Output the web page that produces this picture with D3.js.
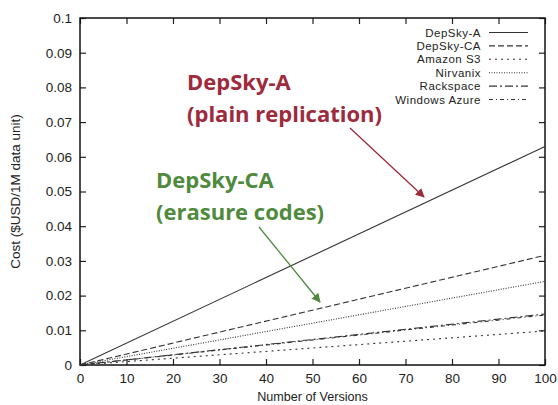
<!DOCTYPE html>
<html lang="en">
<head>
    <meta charset="UTF-8">
    <title>Cost per version</title>
    <style>
        body {
            margin: 0;
            padding: 0;
            background: #fff;
        }
        svg {
            display: block;
        }
        .tick-label, .legend-label, .axis-title {
            font-family: 'Liberation Sans', Arial, sans-serif;
            fill: #222;
        }
        .note {
            font-family: 'Open Sans', 'Noto Sans', sans-serif;
            font-weight: bold;
        }
    </style>
</head>
<body>
    <svg width="558" height="405"></svg>

    <script src="https://d3js.org/d3.v7.min.js"></script>

    <script>
        // Data: cost at 0 and 100 versions
        const versions = [0, 100];
        const seriesNames = ['DepSky-A', 'DepSky-CA', 'Amazon S3', 'Nirvanix', 'Rackspace', 'Windows Azure'];
        const depskyA = [0, 0.0630];
        const depskyCA = [0, 0.0316];
        const amazonS3 = [0, 0.0098];
        const nirvanix = [0, 0.0241];
        const rackspace = [0, 0.0147];
        const windowsAzure = [0, 0.0144];
        const xTicks = [0, 10, 20, 30, 40, 50, 60, 70, 80, 90, 100];
        const yTicks = [0, 0.01, 0.02, 0.03, 0.04, 0.05, 0.06, 0.07, 0.08, 0.09, 0.1];

        const allValues = [depskyA, depskyCA, amazonS3, nirvanix, rackspace, windowsAzure];
        const dashes = ['none', '6,3', '2,4', '1,1.5', '8,3,2,3', '4,3,1,3'];

        const margin = { left: 80, right: 13, top: 18, bottom: 40 };
        const width = 558;
        const height = 405;

        const svg = d3.select('svg');

        const x = d3.scaleLinear()
            .domain([0, 100])
            .range([margin.left, width - margin.right]);

        const y = d3.scaleLinear()
            .domain([0, 0.1])
            .range([height - margin.bottom, margin.top]);

        const tickLen = 6;

        // gnuplot style ticks: inward, mirrored on all four sides
        svg.append('g')
            .attr('transform', `translate(0,${y(0)})`)
            .call(d3.axisBottom(x).tickValues(xTicks).tickSizeInner(-tickLen).tickSizeOuter(0).tickPadding(8))
            .call(g => g.select('.domain').remove())
            .call(g => g.selectAll('text').attr('class', 'tick-label').style('font-size', '13.5px'));

        svg.append('g')
            .attr('transform', `translate(0,${y(0.1)})`)
            .call(d3.axisTop(x).tickValues(xTicks).tickSizeInner(-tickLen).tickSizeOuter(0).tickFormat(''))
            .call(g => g.select('.domain').remove());

        svg.append('g')
            .attr('transform', `translate(${x(0)},0)`)
            .call(d3.axisLeft(y).tickValues(yTicks).tickSizeInner(-tickLen).tickSizeOuter(0).tickPadding(8)
                .tickFormat(d => d === 0 ? '0' : d3.format('~g')(d)))
            .call(g => g.select('.domain').remove())
            .call(g => g.selectAll('text').attr('class', 'tick-label').style('font-size', '13.5px'));

        svg.append('g')
            .attr('transform', `translate(${x(100)},0)`)
            .call(d3.axisRight(y).tickValues(yTicks).tickSizeInner(-tickLen).tickSizeOuter(0).tickFormat(''))
            .call(g => g.select('.domain').remove());

        svg.selectAll('.tick line').attr('stroke', '#222').attr('stroke-width', 1.2);

        // plot border
        svg.append('rect')
            .attr('x', x(0))
            .attr('y', y(0.1))
            .attr('width', x(100) - x(0))
            .attr('height', y(0) - y(0.1))
            .attr('fill', 'none')
            .attr('stroke', '#111')
            .attr('stroke-width', 1.5);

        // series lines
        const line = d3.line()
            .x((d, i) => x(versions[i]))
            .y(d => y(d));

        svg.selectAll('.series')
            .data(allValues)
            .join('path')
                .attr('class', 'series')
                .attr('d', d => line(d))
                .attr('fill', 'none')
                .attr('stroke', '#333')
                .attr('stroke-width', 1.1)
                .attr('stroke-dasharray', (d, i) => dashes[i]);

        // legend
        const legend = svg.append('g');
        const legendTop = 32.5;
        const legendStep = 13.4;
        seriesNames.forEach((name, i) => {
            const cy = legendTop + i * legendStep;
            legend.append('text')
                .attr('class', 'legend-label')
                .attr('x', 481)
                .attr('y', cy)
                .attr('dy', '0.35em')
                .attr('text-anchor', 'end')
                .style('font-size', '11.5px')
                .style('letter-spacing', '0.5px')
                .text(name);
            legend.append('line')
                .attr('x1', 489)
                .attr('x2', 528)
                .attr('y1', cy)
                .attr('y2', cy)
                .attr('stroke', '#333')
                .attr('stroke-width', 1.1)
                .attr('stroke-dasharray', dashes[i]);
        });

        // axis titles
        svg.append('text')
            .attr('class', 'axis-title')
            .attr('x', (x(0) + x(100)) / 2)
            .attr('y', 401)
            .attr('text-anchor', 'middle')
            .style('font-size', '12.6px')
            .text('Number of Versions');

        svg.append('text')
            .attr('class', 'axis-title')
            .attr('transform', `translate(20,${(y(0) + y(0.1)) / 2}) rotate(-90)`)
            .attr('text-anchor', 'middle')
            .style('font-size', '13.5px')
            .text('Cost ($USD/1M data unit)');

        // annotations with arrows
        const defs = svg.append('defs');
        function marker(id, color) {
            defs.append('marker')
                .attr('id', id)
                .attr('viewBox', '0 0 10 10')
                .attr('refX', 9)
                .attr('refY', 5)
                .attr('markerWidth', 7)
                .attr('markerHeight', 7)
                .attr('orient', 'auto')
                .append('path')
                .attr('d', 'M0,0 L10,5 L0,10 z')
                .attr('fill', color);
        }
        const red = '#9e2a3c';
        const green = '#4f8a3d';
        marker('arrowRed', red);
        marker('arrowGreen', green);

        svg.append('text').attr('class', 'note').attr('x', 187).attr('y', 90)
            .attr('fill', red).style('font-size', '22px').text('DepSky-A');
        svg.append('text').attr('class', 'note').attr('x', 187).attr('y', 122)
            .attr('fill', red).style('font-size', '22px').text('(plain replication)');
        svg.append('line')
            .attr('x1', 350).attr('y1', 128).attr('x2', 424).attr('y2', 197)
            .attr('stroke', red).attr('stroke-width', 1.3)
            .attr('marker-end', 'url(#arrowRed)');

        svg.append('text').attr('class', 'note').attr('x', 156).attr('y', 188)
            .attr('fill', green).style('font-size', '22px').text('DepSky-CA');
        svg.append('text').attr('class', 'note').attr('x', 156).attr('y', 220)
            .attr('fill', green).style('font-size', '22px').text('(erasure codes)');
        svg.append('line')
            .attr('x1', 259).attr('y1', 227).attr('x2', 320).attr('y2', 302)
            .attr('stroke', green).attr('stroke-width', 1.3)
            .attr('marker-end', 'url(#arrowGreen)');
    </script>
</body>
</html>
